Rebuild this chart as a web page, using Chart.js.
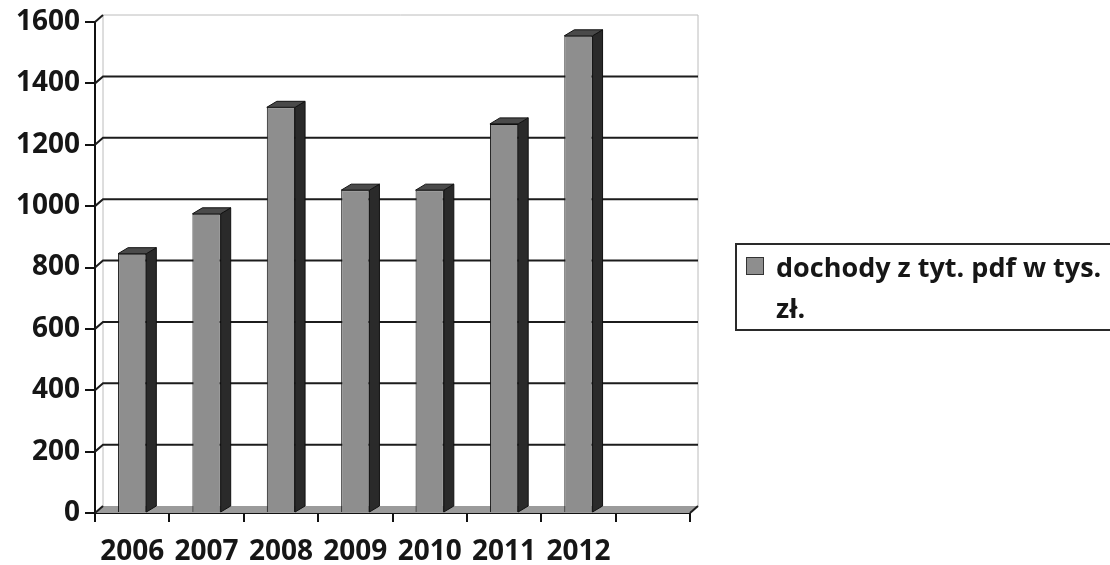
<!DOCTYPE html>
<html>
<head>
<meta charset="utf-8">
<script src="https://cdn.jsdelivr.net/npm/chart.js@4.4.0/dist/chart.umd.min.js"></script>
<style>
    html, body { margin: 0; padding: 0; background: #fff; overflow: hidden; }
    #wrap { position: relative; width: 1110px; height: 565px; }
    #legend {
        position: absolute; left: 735px; top: 243px; width: 420px; height: 88px;
        border: 2px solid #2a2a2a; box-sizing: border-box;
        font: bold 27px 'Open Sans', sans-serif; color: #161616;
    }
    #legend .swatch {
        position: absolute; left: 9px; top: 12px; width: 18px; height: 18px;
        background: #8e8e8e; border: 1px solid #333; box-sizing: border-box;
    }
    #legend .text {
        position: absolute; left: 39px; top: 1px; width: 345px; line-height: 41px;
    }
</style>
</head>
<body>
<div id="wrap">
    <canvas id="chart" width="1110" height="565"></canvas>
    <div id="legend"></div>
</div>
<script>
const categories = ['2006', '2007', '2008', '2009', '2010', '2011', '2012', ''];
const income = [845, 975, 1322, 1052, 1052, 1268, 1555, null];
const seriesLabel = 'dochody z tyt. pdf w tys. zł.';
const yMin = 0;
const yMax = 1600;
const yStep = 200;

// depth offsets for the fake 3D look
const WALL_DX = 8, WALL_DY = 7;
const BAR_DX = 10, BAR_DY = 6;

const wall3d = {
    id: 'wall3d',
    beforeDatasetsDraw(chart) {
        const { ctx, chartArea: a, scales: { y } } = chart;
        ctx.save();

        // floor
        ctx.fillStyle = '#9b9b9b';
        ctx.beginPath();
        ctx.moveTo(a.left, a.bottom);
        ctx.lineTo(a.right, a.bottom);
        ctx.lineTo(a.right + WALL_DX, a.bottom - WALL_DY);
        ctx.lineTo(a.left + WALL_DX, a.bottom - WALL_DY);
        ctx.closePath();
        ctx.fill();

        // back wall edges
        ctx.strokeStyle = '#bcbcbc';
        ctx.lineWidth = 1;
        ctx.beginPath();
        ctx.moveTo(a.left + WALL_DX, a.bottom - WALL_DY);
        ctx.lineTo(a.left + WALL_DX, a.top - WALL_DY);
        ctx.lineTo(a.right + WALL_DX, a.top - WALL_DY);
        ctx.lineTo(a.right + WALL_DX, a.bottom - WALL_DY);
        ctx.stroke();

        // grid lines on the back wall
        ctx.strokeStyle = '#1c1c1c';
        ctx.lineWidth = 2;
        y.ticks.forEach((t) => {
            const py = y.getPixelForValue(t.value);
            ctx.beginPath();
            ctx.moveTo(a.left, py);
            ctx.lineTo(a.left + WALL_DX, py - WALL_DY);
            if (t.value > yMin && t.value < yMax) ctx.lineTo(a.right + WALL_DX, py - WALL_DY);
            ctx.stroke();
        });

        // right end of the floor
        ctx.beginPath();
        ctx.moveTo(a.right, a.bottom);
        ctx.lineTo(a.right + WALL_DX, a.bottom - WALL_DY);
        ctx.stroke();
        ctx.restore();
    },
    afterDatasetsDraw(chart) {
        const { ctx } = chart;
        const meta = chart.getDatasetMeta(0);
        ctx.save();
        ctx.strokeStyle = '#111';
        ctx.lineWidth = 1;
        meta.data.forEach((bar, i) => {
            if (income[i] == null) return;
            const { x, y, width, base } = bar.getProps(['x', 'y', 'width', 'base'], true);
            const l = x - width / 2, r = x + width / 2;

            ctx.fillStyle = '#2a2a2a';
            ctx.beginPath();
            ctx.moveTo(r, y);
            ctx.lineTo(r + BAR_DX, y - BAR_DY);
            ctx.lineTo(r + BAR_DX, base - BAR_DY);
            ctx.lineTo(r, base);
            ctx.closePath();
            ctx.fill();
            ctx.stroke();

            ctx.fillStyle = '#4a4a4a';
            ctx.beginPath();
            ctx.moveTo(l, y);
            ctx.lineTo(l + BAR_DX, y - BAR_DY);
            ctx.lineTo(r + BAR_DX, y - BAR_DY);
            ctx.lineTo(r, y);
            ctx.closePath();
            ctx.fill();
            ctx.stroke();
        });
        ctx.restore();
    },
};

const tickFont = { family: "'Open Sans', sans-serif", size: 28, weight: 'bold' };

new Chart(document.getElementById('chart').getContext('2d'), {
    type: 'bar',
    data: {
        labels: categories,
        datasets: [{
            label: seriesLabel,
            data: income,
            backgroundColor: '#8e8e8e',
            borderColor: '#111',
            borderWidth: 1,
            barPercentage: 0.38,
            categoryPercentage: 1,
        }],
    },
    options: {
        responsive: false,
        animation: false,
        devicePixelRatio: 1,
        layout: { padding: { left: 0, top: 22, right: 420, bottom: 0 } },
        plugins: {
            legend: { display: false },
            tooltip: { enabled: false },
        },
        scales: {
            x: {
                afterFit: (s) => { s.height = 52; },
                grid: { drawOnChartArea: false, offset: true, tickLength: 9, tickColor: '#111', lineWidth: 2 },
                border: { display: true, color: '#111', width: 2 },
                ticks: { color: '#161616', font: tickFont, padding: 13, maxRotation: 0, autoSkip: false },
            },
            y: {
                min: yMin,
                max: yMax,
                afterFit: (s) => { s.width = 95; },
                grid: { drawOnChartArea: false, tickLength: 10, tickColor: '#111', lineWidth: 2 },
                border: { display: true, color: '#111', width: 2 },
                ticks: { stepSize: yStep, color: '#161616', font: tickFont, padding: 5, callback: (v) => String(v) },
            },
        },
    },
    plugins: [wall3d],
});

const legend = document.getElementById('legend');
legend.innerHTML = '<div class="swatch"></div><div class="text"></div>';
legend.querySelector('.text').textContent = seriesLabel;
</script>
</body>
</html>
